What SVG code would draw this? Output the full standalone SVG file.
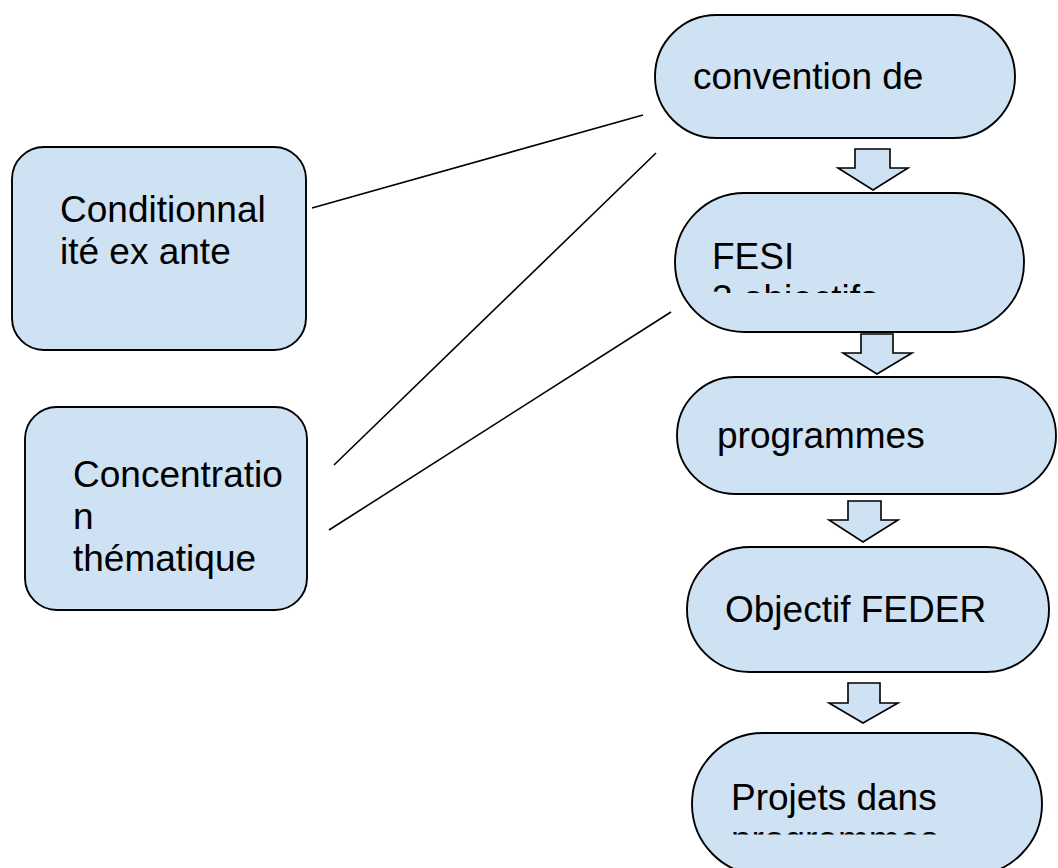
<svg xmlns="http://www.w3.org/2000/svg" width="1058" height="868" viewBox="0 0 1058 868">
<style>
.box{fill:#cfe2f3;stroke:#000;stroke-width:1.9}
.arr{fill:#cfe2f3;stroke:#000;stroke-width:1.6;stroke-linejoin:miter}
.ln{stroke:#000;stroke-width:1.6;fill:none}
text{font-family:"Liberation Sans",Arial,sans-serif;font-size:37px;fill:#000}
</style>
<defs>
<clipPath id="clipFesi"><rect x="675" y="193" width="350" height="100"/></clipPath>
<clipPath id="clipProj"><rect x="692" y="733" width="350" height="101.5"/></clipPath>
</defs>
<rect width="1058" height="868" fill="#fff"/>
<g id="connectors">
<line class="ln" x1="312" y1="208" x2="643" y2="115"/>
<line class="ln" x1="334" y1="465" x2="656" y2="153"/>
<line class="ln" x1="329" y1="530" x2="671" y2="312"/>
<polygon class="arr" points="855,149 890,149 890,168 908,168 873,190 838,168 855,168"/>
<polygon class="arr" points="861,334 893,334 893,353 912,353 877,374 843,353 861,353"/>
<polygon class="arr" points="848,501 881,501 881,520 898,520 863,542 829,520 848,520"/>
<polygon class="arr" points="848,683 880,683 880,703 898,703 863,723 829,703 848,703"/>
</g>
<g id="node-conditionnalite">
<rect class="box" x="12" y="147" width="294" height="203" rx="32"/>
<text x="60" y="222">Conditionnal</text>
<text x="60" y="264">ité ex ante</text>
</g>
<g id="node-concentration">
<rect class="box" x="25" y="407" width="282" height="203" rx="32"/>
<text x="73" y="487">Concentratio</text>
<text x="73" y="529">n</text>
<text x="73" y="571">thématique</text>
</g>
<g id="node-convention">
<rect class="box" x="655" y="15" width="360" height="123" rx="61.5"/>
<text x="693" y="89">convention de</text>
</g>
<g id="node-fesi">
<rect class="box" x="675" y="193" width="349" height="139" rx="69.5"/>
<g clip-path="url(#clipFesi)">
<text x="712" y="269">FESI</text>
<text x="712" y="311">3 objectifs</text>
</g>
</g>
<g id="node-programmes">
<rect class="box" x="677" y="377" width="379" height="117" rx="58.5"/>
<text x="717" y="448">programmes</text>
</g>
<g id="node-objectif">
<rect class="box" x="687" y="547" width="362" height="125" rx="62.5"/>
<text x="725" y="622">Objectif FEDER</text>
</g>
<g id="node-projets">
<rect class="box" x="692" y="733" width="350" height="142" rx="71"/>
<g clip-path="url(#clipProj)">
<text x="731" y="810">Projets dans</text>
<text x="731" y="852">programmes</text>
</g>
</g>
</svg>
